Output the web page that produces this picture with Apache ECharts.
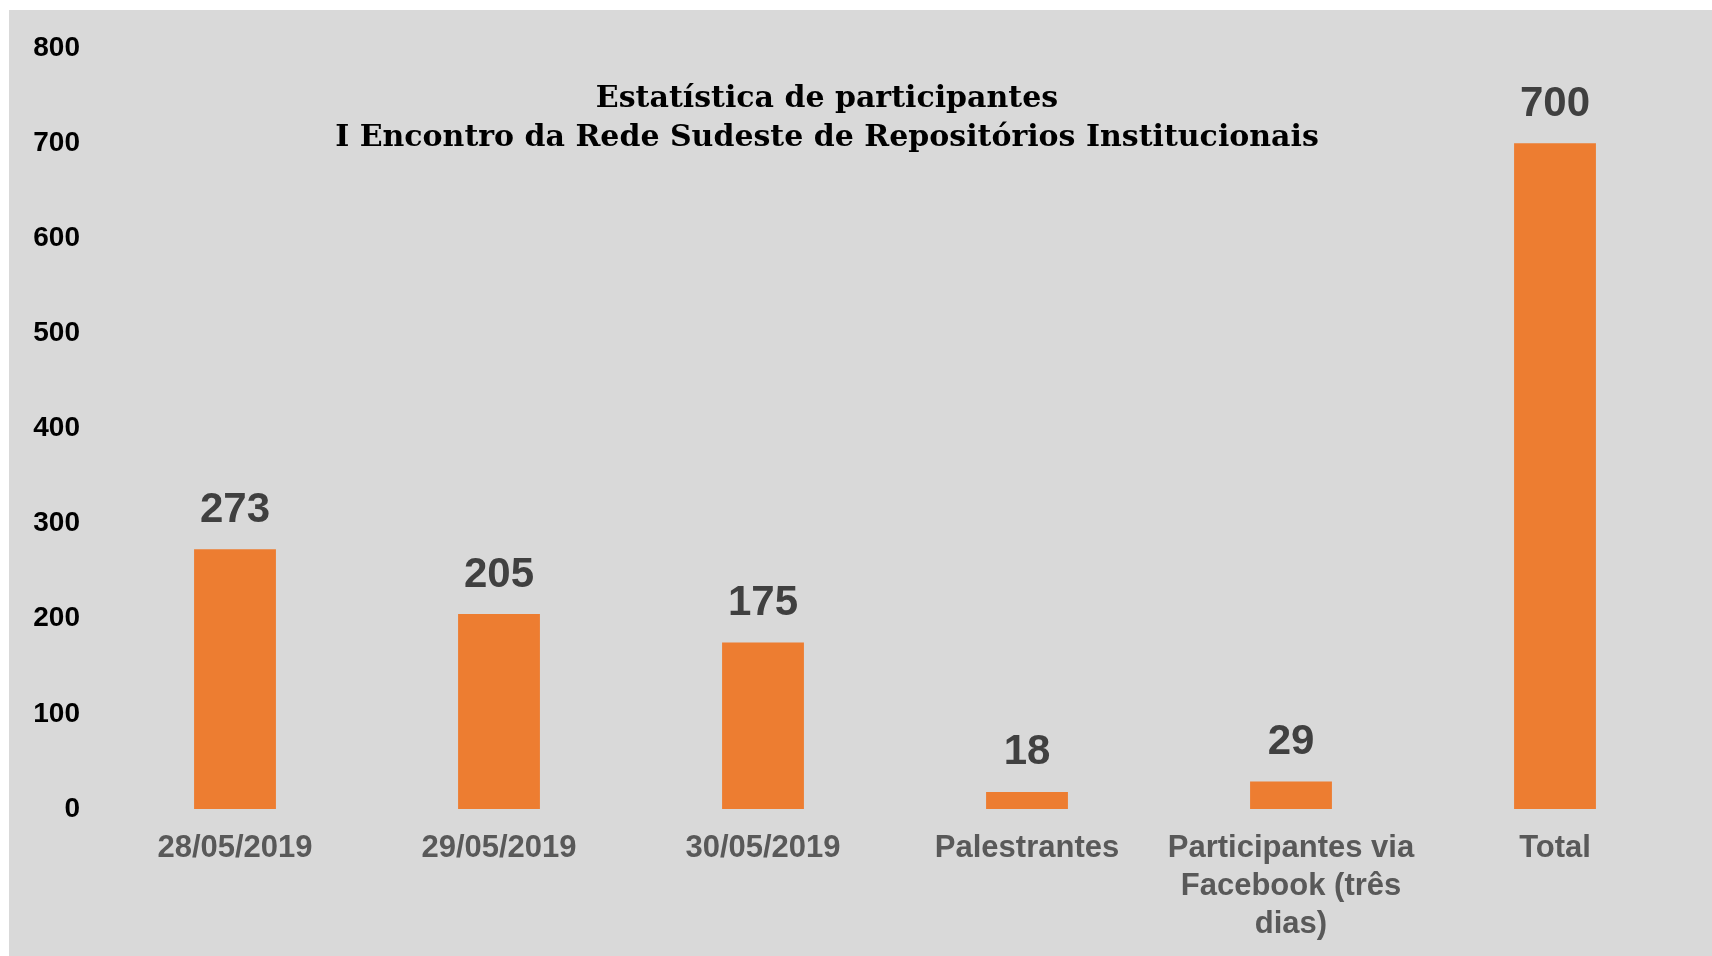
<!DOCTYPE html>
<html>
<head>
<meta charset="utf-8">
<title>Estatística de participantes</title>
<script src="https://cdn.jsdelivr.net/npm/echarts@6/dist/echarts.min.js"></script>
<style>
  html, body { margin: 0; padding: 0; background: #ffffff; }
  #chart { position: absolute; left: 9px; top: 10px; width: 1703px; height: 946px; }
</style>
</head>
<body>
<div id="chart"></div>
<script>
// categorias e valores
const categories = ['28/05/2019', '29/05/2019', '30/05/2019', 'Palestrantes', 'Participantes via\nFacebook (três\ndias)', 'Total'];
const participants = [273, 205, 175, 18, 29, 700];
const yTicks = [0, 100, 200, 300, 400, 500, 600, 700, 800];
const titleLines = ['Estatística de participantes', 'I Encontro da Rede Sudeste de Repositórios Institucionais'];

const myChart = echarts.init(document.getElementById('chart'));
const option = {
  backgroundColor: '#d9d9d9',
  animation: false,
  title: {
    text: titleLines.join('\n'),
    left: 813,
    top: 65,
    textAlign: 'center',
    textStyle: {
      fontFamily: 'DejaVu Serif',
      fontWeight: 'bold',
      fontSize: 30,
      lineHeight: 39,
      color: '#000000'
    }
  },
  grid: {
    left: 94,
    right: 25,
    top: 38,
    bottom: 147,
    containLabel: false
  },
  xAxis: {
    type: 'category',
    data: categories,
    axisLine: { show: false },
    axisTick: { show: false },
    axisLabel: {
      margin: 20,
      interval: 0,
      fontFamily: 'Liberation Sans',
      fontWeight: 'bold',
      fontSize: 31,
      lineHeight: 38,
      color: '#595959'
    }
  },
  yAxis: {
    type: 'value',
    min: yTicks[0],
    max: yTicks[yTicks.length - 1],
    interval: 100,
    splitLine: { show: false },
    axisLine: { show: false },
    axisTick: { show: false },
    axisLabel: {
      margin: 23,
      fontFamily: 'Liberation Sans',
      fontWeight: 'bold',
      fontSize: 28,
      color: '#000000'
    }
  },
  series: [
    {
      name: 'Participantes',
      type: 'bar',
      data: participants,
      barWidth: '31%',
      itemStyle: { color: '#ed7d31' },
      label: {
        show: true,
        position: 'top',
        distance: 18,
        fontFamily: 'Liberation Sans',
        fontWeight: 'bold',
        fontSize: 42,
        color: '#404040'
      }
    }
  ]
};
myChart.setOption(option);
</script>
</body>
</html>
